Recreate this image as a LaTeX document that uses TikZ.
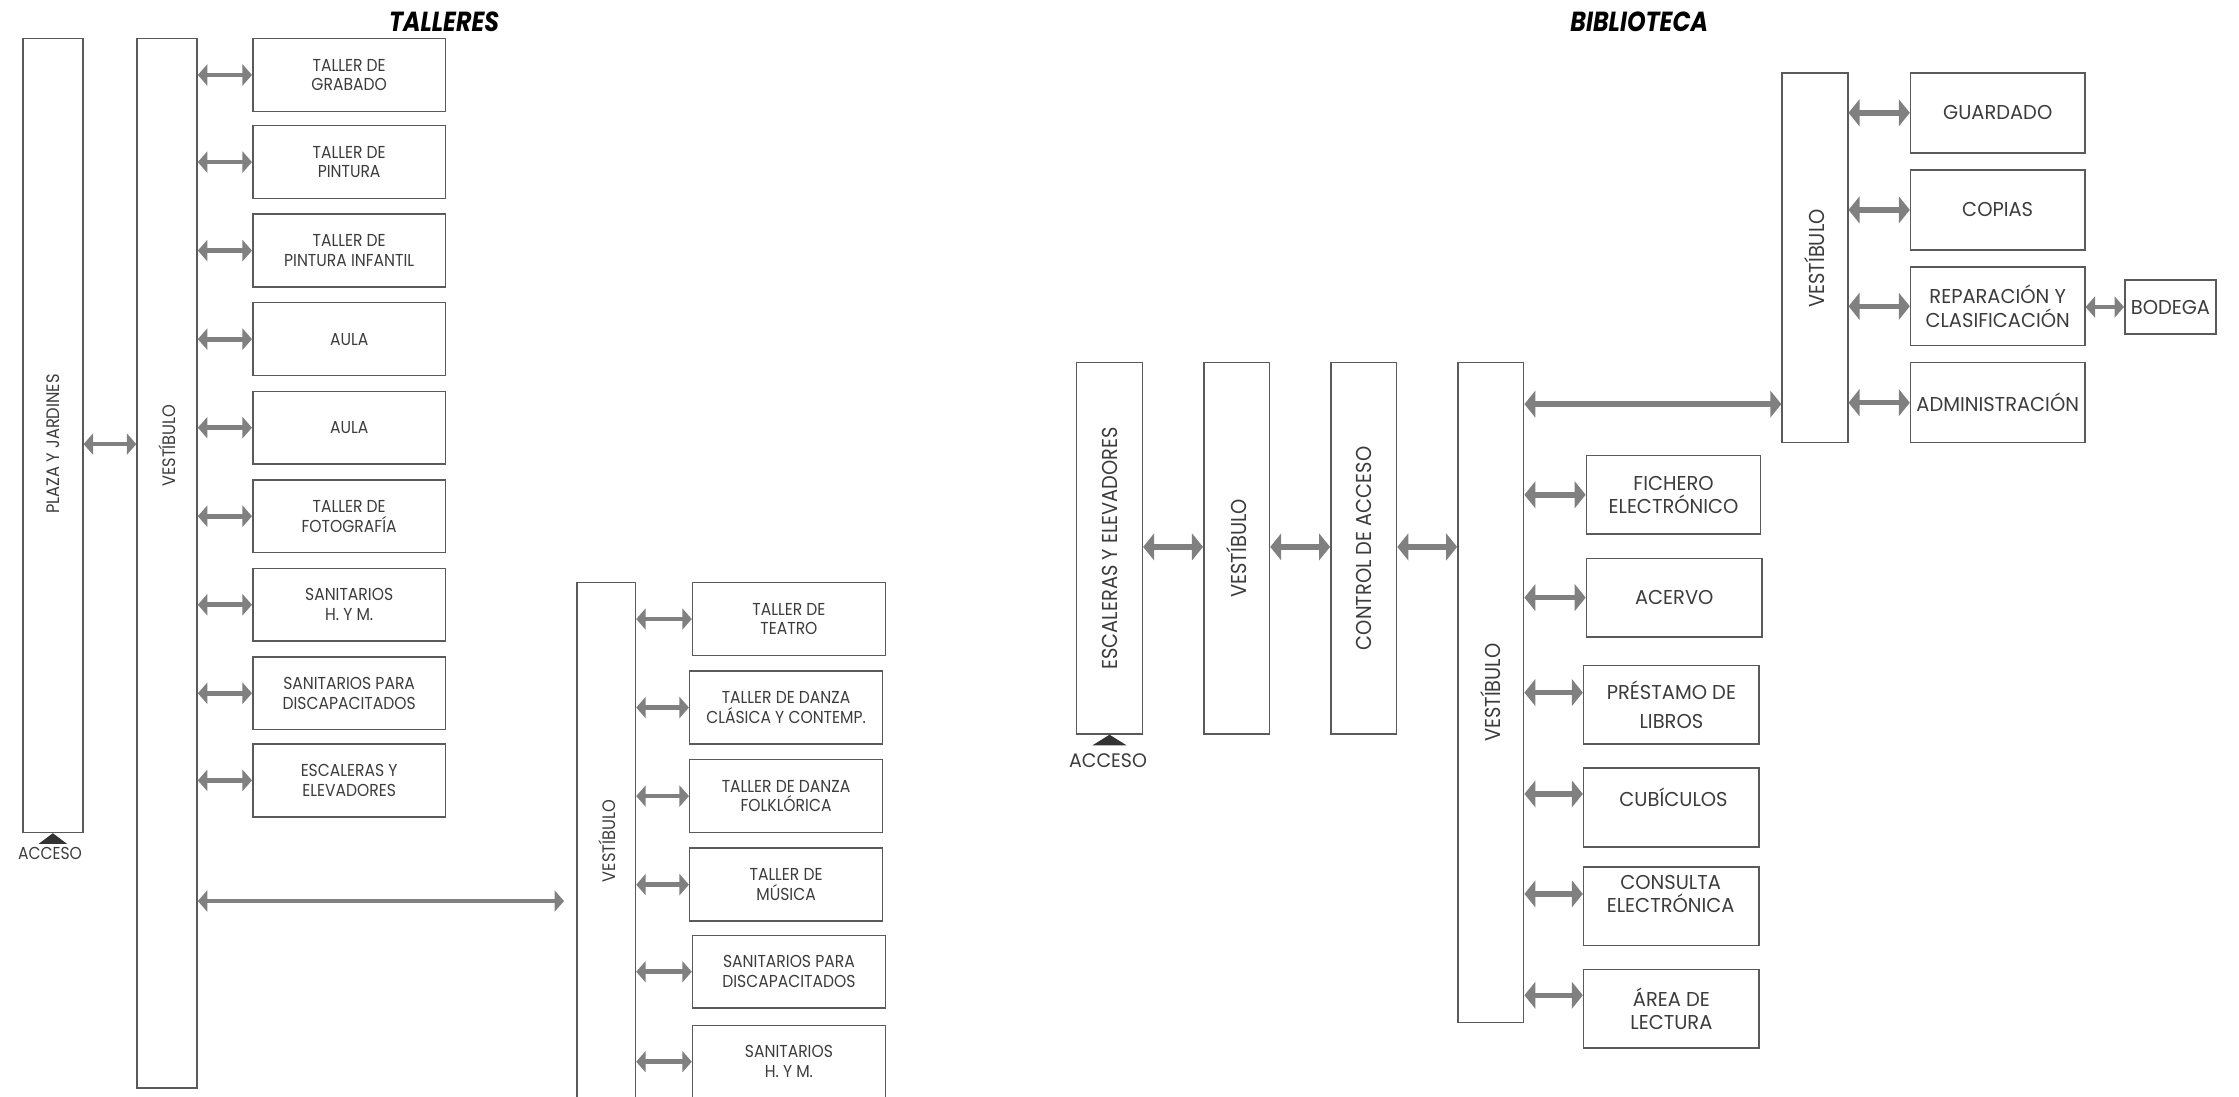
\documentclass[tikz,border=0pt]{standalone}
\usepackage{fontspec}
\setmainfont{Poppins}
\newfontfamily\fA{Poppins}[FakeStretch=0.9]
\newfontfamily\fB{Poppins}[FakeStretch=0.97]
\newfontfamily\fR{Poppins}[FakeStretch=0.9]
\newfontfamily\fT{Poppins}[FakeStretch=0.86]
\usetikzlibrary{arrows.meta}
\definecolor{arrgray}{HTML}{808080}
\definecolor{linegray}{HTML}{5A5A5A}
\definecolor{txtgray}{HTML}{3C3C3C}
\tikzset{
  box/.style={draw=linegray, line width=0.6pt, inner sep=0pt, align=center, text=txtgray},
  tbox/.style={box, font=\fA\fontsize{6.9}{7.9}\selectfont},
  bbox/.style={box, font=\fB\fontsize{8}{9.3}\selectfont},
  btxt/.style={text=txtgray, align=center, inner sep=0pt, font=\fB\fontsize{8}{9.3}\selectfont},
  rlabS/.style={rotate=90, text=txtgray, inner sep=0pt, font=\fR\fontsize{7.2}{8}\selectfont},
  rlabB/.style={rotate=90, text=txtgray, inner sep=0pt, font=\fR\fontsize{8.6}{9}\selectfont},
  tipS/.tip={Triangle[length=3.8pt,width=8.4pt]},
  tipB/.tip={Triangle[length=4.4pt,width=10.6pt]},
  arrS/.style={draw=arrgray, line width=1.9pt, tipS-tipS},
  arrB/.style={draw=arrgray, line width=2.2pt, tipB-tipB},
  ttl/.style={inner sep=0pt, font=\fT\fontsize{11}{12}\selectfont\bfseries\itshape},
  acctxt/.style={inner sep=0pt, text=txtgray},
  acc/.style={fill=black!80, draw=none}
}
\newcommand{\bx}[7]{\node[#1, minimum width={(#5-#3)*0.02cm}, minimum height={(#6-#4)*0.02cm}] (#2) at ({(#3+#5)/2},{(#4+#6)/2}) {#7};}
\begin{document}
\begin{tikzpicture}[x=0.02cm, y=-0.02cm]
\path[use as bounding box] (0,0) rectangle (1568,768);
\clip (0,0) rectangle (1568,768);

% ---------------- TALLERES ----------------
\node[ttl] (tt1) at (311,15) {TALLERES};

\bx{box}{plaza}{16}{27}{58}{583}{}
\node[rlabS] (plazat) at (37,311) {PLAZA Y JARDINES};
\fill[acc] (27,591) -- (47,591) -- (37,583.5) -- cycle;
\node[acctxt, font=\fA\fontsize{6.9}{8}\selectfont] (acc1) at (35,598) {ACCESO};

\bx{box}{v1}{96}{27}{138}{762}{}
\node[rlabS] (v1t) at (117,312) {VESTÍBULO};

\bx{tbox}{a1}{177}{27}{312}{78}{TALLER DE\\GRABADO}
\bx{tbox}{a2}{177}{88}{312}{139}{TALLER DE\\PINTURA}
\bx{tbox}{a3}{177}{150}{312}{201}{TALLER DE\\PINTURA INFANTIL}
\bx{tbox}{a4}{177}{212}{312}{263}{AULA}
\bx{tbox}{a5}{177}{274}{312}{325}{AULA}
\bx{tbox}{a6}{177}{336}{312}{387}{TALLER DE\\FOTOGRAFÍA}
\bx{tbox}{a7}{177}{398}{312}{449}{SANITARIOS\\H. Y M.}
\bx{tbox}{a8}{177}{460}{312}{511}{SANITARIOS PARA\\DISCAPACITADOS}
\bx{tbox}{a9}{177}{521}{312}{572}{ESCALERAS Y\\ELEVADORES}

\foreach \n in {a1,a2,a3,a4,a5,a6,a7,a8,a9}
  \draw[arrS] (v1.east |- \n.west) -- (\n.west);

\draw[arrS] (plaza.east |- 0,311) -- (v1.west |- 0,311);

\bx{box}{v2}{404}{408}{445}{790}{}
\node[rlabS] (v2t) at (425,589) {VESTÍBULO};
\coordinate (v2g) at (395,631);
\draw[arrS] (v1.east |- v2g) -- (v2g);

\bx{tbox}{b1}{485}{408}{620}{459}{TALLER DE\\TEATRO}
\bx{tbox}{b2}{483}{470}{618}{521}{TALLER DE DANZA\\CLÁSICA Y CONTEMP.}
\bx{tbox}{b3}{483}{532}{618}{583}{TALLER DE DANZA\\FOLKLÓRICA}
\bx{tbox}{b4}{483}{594}{618}{645}{TALLER DE\\MÚSICA}
\bx{tbox}{b5}{485}{655}{620}{706}{SANITARIOS PARA\\DISCAPACITADOS}
\bx{tbox}{b6}{485}{718}{620}{769}{SANITARIOS\\H. Y M.}

\foreach \n in {b1,b2,b3,b4,b5,b6}
  \draw[arrS] (v2.east |- \n.west) -- (\n.west);

% ---------------- BIBLIOTECA ----------------
\node[ttl] (tt2) at (1148,15) {BIBLIOTECA};

\bx{box}{esc}{754}{254}{800}{514}{}
\node[rlabB] (esct) at (esc.center) {ESCALERAS Y ELEVADORES};
\fill[acc] (765,522) -- (789,522) -- (777,514.5) -- cycle;
\node[acctxt, font=\fB\fontsize{7.8}{8}\selectfont] (acc2) at (776,533) {ACCESO};

\bx{box}{vb1}{843}{254}{889}{514}{}
\node[rlabB] (vb1t) at (vb1.center) {VESTÍBULO};
\bx{box}{ctrl}{932}{254}{978}{514}{}
\node[rlabB] (ctrlt) at (ctrl.center) {CONTROL DE ACCESO};
\bx{box}{vb2}{1021}{254}{1067}{716}{}
\node[rlabB] (vb2t) at (1044,485) {VESTÍBULO};
\bx{box}{vb3}{1248}{51}{1294}{310}{}
\node[rlabB] (vb3t) at (1271,181) {VESTÍBULO};

\draw[arrB] (esc.east |- 0,383) -- (vb1.west |- 0,383);
\draw[arrB] (vb1.east |- 0,383) -- (ctrl.west |- 0,383);
\draw[arrB] (ctrl.east |- 0,383) -- (vb2.west |- 0,383);
\draw[arrB] (vb2.east |- 0,283) -- (vb3.west |- 0,283);

\bx{bbox}{c1}{1338}{51}{1460}{107}{GUARDADO}
\bx{bbox}{c2}{1338}{119}{1460}{175}{COPIAS}
\bx{bbox}{c3}{1338}{187}{1460}{242}{REPARACIÓN Y\\CLASIFICACIÓN}
\bx{bbox}{c4}{1338}{254}{1460}{310}{ADMINISTRACIÓN}
\bx{bbox}{bod}{1488}{196}{1552}{234}{BODEGA}

\foreach \n in {c1,c2,c3,c4}
  \draw[arrB] (vb3.east |- \n.west) -- (\n.west);
\draw[arrS] (c3.east |- bod.west) -- (bod.west);

\bx{bbox}{d1}{1111}{319}{1233}{374}{FICHERO\\ELECTRÓNICO}
\bx{bbox}{d2}{1111}{391}{1234}{446}{ACERVO}
\bx{bbox}{d3}{1109}{466}{1232}{521}{PRÉSTAMO DE\\[2pt]LIBROS}
\bx{box}{d4}{1109}{538}{1232}{593}{}
\node[btxt] (d4t) at (1172,558) {CUBÍCULOS};
\bx{box}{d5}{1109}{607}{1232}{662}{}
\node[btxt] (d5t) at (1170,626) {CONSULTA\\ELECTRÓNICA};
\bx{bbox}{d6}{1109}{679}{1232}{734}{ÁREA DE\\LECTURA}

\draw[arrB] (vb2.east |- d1.west) -- (d1.west);
\draw[arrB] (vb2.east |- d2.west) -- (d2.west);
\draw[arrB] (vb2.east |- 0,485) -- (d3.west |- 0,485);
\draw[arrB] (vb2.east |- 0,556) -- (d4.west |- 0,556);
\draw[arrB] (vb2.east |- 0,626) -- (d5.west |- 0,626);
\draw[arrB] (vb2.east |- 0,697) -- (d6.west |- 0,697);
\end{tikzpicture}
\end{document}
